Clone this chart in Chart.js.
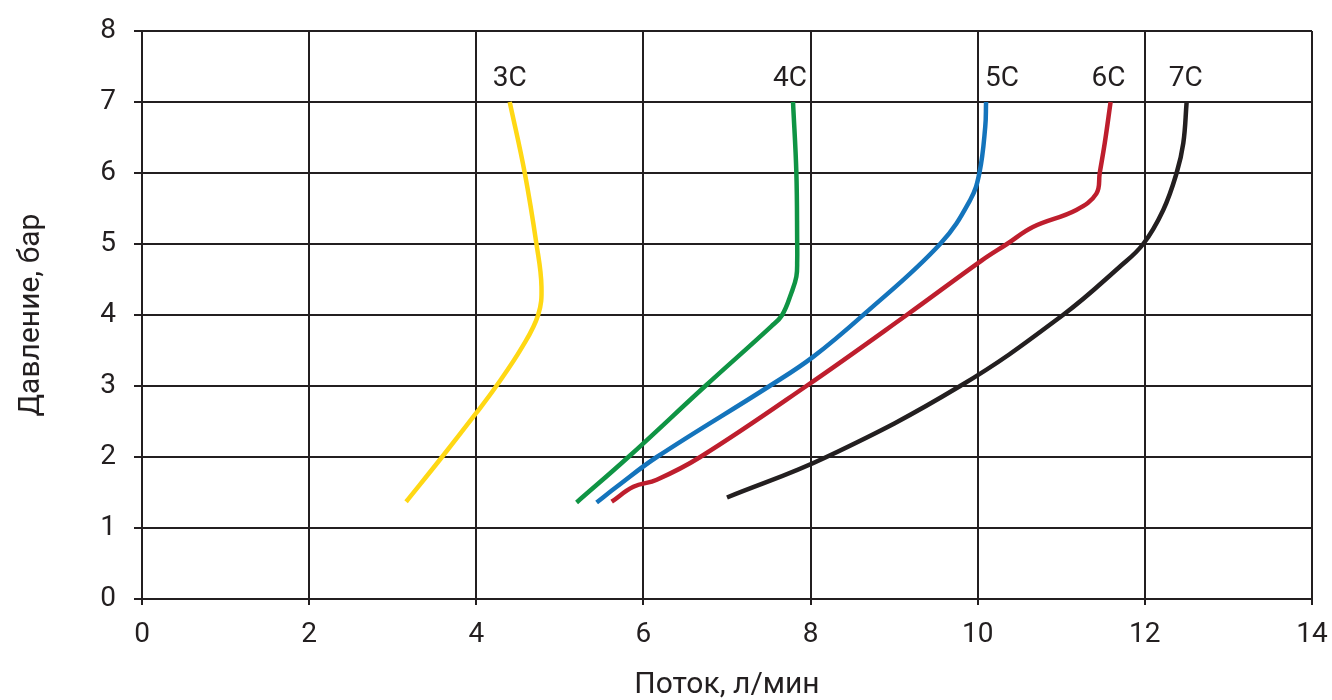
<!DOCTYPE html>
<html>
<head>
<meta charset="utf-8">
<script src="https://cdn.jsdelivr.net/npm/chart.js@4"></script>
<style>
  body { margin: 0; background: #fff; }
  #wrap { width: 1332px; height: 700px; }
</style>
</head>
<body>
<div id="wrap"><canvas id="flowChart"></canvas></div>
<script>
// Поток, л/мин (x) and Давление, бар (y) for each nozzle
const flow3C = [3.16, 3.59, 4.00, 4.24, 4.55, 4.74, 4.78, 4.72, 4.58, 4.40];
const pres3C = [1.37, 2.00, 2.62, 3.00, 3.55, 4.00, 4.40, 5.00, 6.00, 7.00];

const flow4C = [5.20, 5.82, 6.74, 7.53, 7.66, 7.77, 7.83, 7.84, 7.84, 7.83, 7.79];
const pres4C = [1.36, 2.00, 3.00, 3.84, 4.00, 4.31, 4.54, 4.77, 5.00, 6.00, 7.00];

const flow5C = [5.44, 5.68, 6.16, 7.51, 8.03, 8.63, 9.55, 9.91, 10.02, 10.09, 10.10];
const pres5C = [1.36, 1.58, 2.00, 3.00, 3.41, 4.00, 5.00, 5.62, 6.00, 6.65, 7.00];

const flow6C = [5.62, 5.88, 6.16, 6.68, 7.95, 9.15, 10.05, 10.35, 10.66, 11.18, 11.42, 11.46, 11.52, 11.59];
const pres6C = [1.37, 1.58, 1.68, 2.00, 3.00, 4.00, 4.77, 5.00, 5.24, 5.48, 5.71, 6.00, 6.42, 7.00];

const flow7C = [7.00, 8.19, 9.79, 11.02, 11.70, 11.98, 12.22, 12.38, 12.46, 12.50];
const pres7C = [1.43, 2.00, 3.00, 4.00, 4.68, 5.00, 5.48, 6.00, 6.42, 7.00];

const seriesNames = ['3C', '4C', '5C', '6C', '7C'];
const xTicks = [0, 2, 4, 6, 8, 10, 12, 14];
const yTicks = [0, 1, 2, 3, 4, 5, 6, 7, 8];

const ink = '#231f20';
const font = 'Roboto, "Liberation Sans", sans-serif';

function pts(xs, ys) {
    return xs.map((x, i) => ({ x: x, y: ys[i] }));
}

function curve(name, xs, ys, color, labelShift) {
    return {
        label: name,
        data: pts(xs, ys),
        borderColor: color,
        borderWidth: 4.5,
        showLine: true,
        tension: 0.4,
        pointRadius: 0,
        labelShift: labelShift
    };
}

// writes 3C..7C above the top of each curve
const curveLabels = {
    id: 'curveLabels',
    afterDatasetsDraw(chart) {
        const c = chart.ctx;
        const xs = chart.scales.x, ys = chart.scales.y;
        c.save();
        c.font = '28px ' + font;
        c.fillStyle = ink;
        c.textAlign = 'center';
        c.textBaseline = 'middle';
        chart.data.datasets.forEach(ds => {
            const top = ds.data[ds.data.length - 1];
            c.fillText(ds.label, xs.getPixelForValue(top.x) + ds.labelShift, ys.getPixelForValue(top.y) - 23);
        });
        c.restore();
    }
};

new Chart(document.getElementById('flowChart'), {
    type: 'scatter',
    data: {
        datasets: [
            curve(seriesNames[0], flow3C, pres3C, '#ffd814', 0),
            curve(seriesNames[1], flow4C, pres4C, '#0f9444', -3),
            curve(seriesNames[2], flow5C, pres5C, '#1474bc', 16),
            curve(seriesNames[3], flow6C, pres6C, '#be1e2d', -2),
            curve(seriesNames[4], flow7C, pres7C, ink, -1)
        ]
    },
    options: {
        responsive: true,
        maintainAspectRatio: false,
        animation: false,
        devicePixelRatio: 1,
        layout: { padding: { top: 31, right: 20, left: 0, bottom: 0 } },
        plugins: {
            legend: { display: false },
            tooltip: { enabled: false }
        },
        scales: {
            x: {
                type: 'linear',
                min: 0,
                max: 14,
                afterBuildTicks: s => { s.ticks = xTicks.map(v => ({ value: v })); },
                afterFit: s => { s.height = 101; s.paddingLeft = 0; s.paddingRight = 0; },
                grid: { color: ink, lineWidth: 2, tickLength: 6 },
                border: { color: ink, width: 2 },
                ticks: { color: ink, font: { family: font, size: 28 }, padding: 13 },
                title: {
                    display: true,
                    text: 'Поток, л/мин',
                    color: ink,
                    font: { family: font, size: 30, lineHeight: 1 },
                    padding: { top: 0, bottom: 0 }
                }
            },
            y: {
                type: 'linear',
                min: 0,
                max: 8,
                afterBuildTicks: s => { s.ticks = yTicks.map(v => ({ value: v })); },
                afterFit: s => { s.width = 142; s.paddingTop = 0; s.paddingBottom = 0; },
                grid: { color: ink, lineWidth: 2, tickLength: 8 },
                border: { color: ink, width: 2 },
                ticks: { color: ink, font: { family: font, size: 28 }, padding: 18 },
                title: {
                    display: true,
                    text: 'Давление, бар',
                    color: ink,
                    font: { family: font, size: 30, lineHeight: 1 },
                    padding: { top: 16, bottom: 0 }
                }
            }
        }
    },
    plugins: [curveLabels]
});
</script>
</body>
</html>
